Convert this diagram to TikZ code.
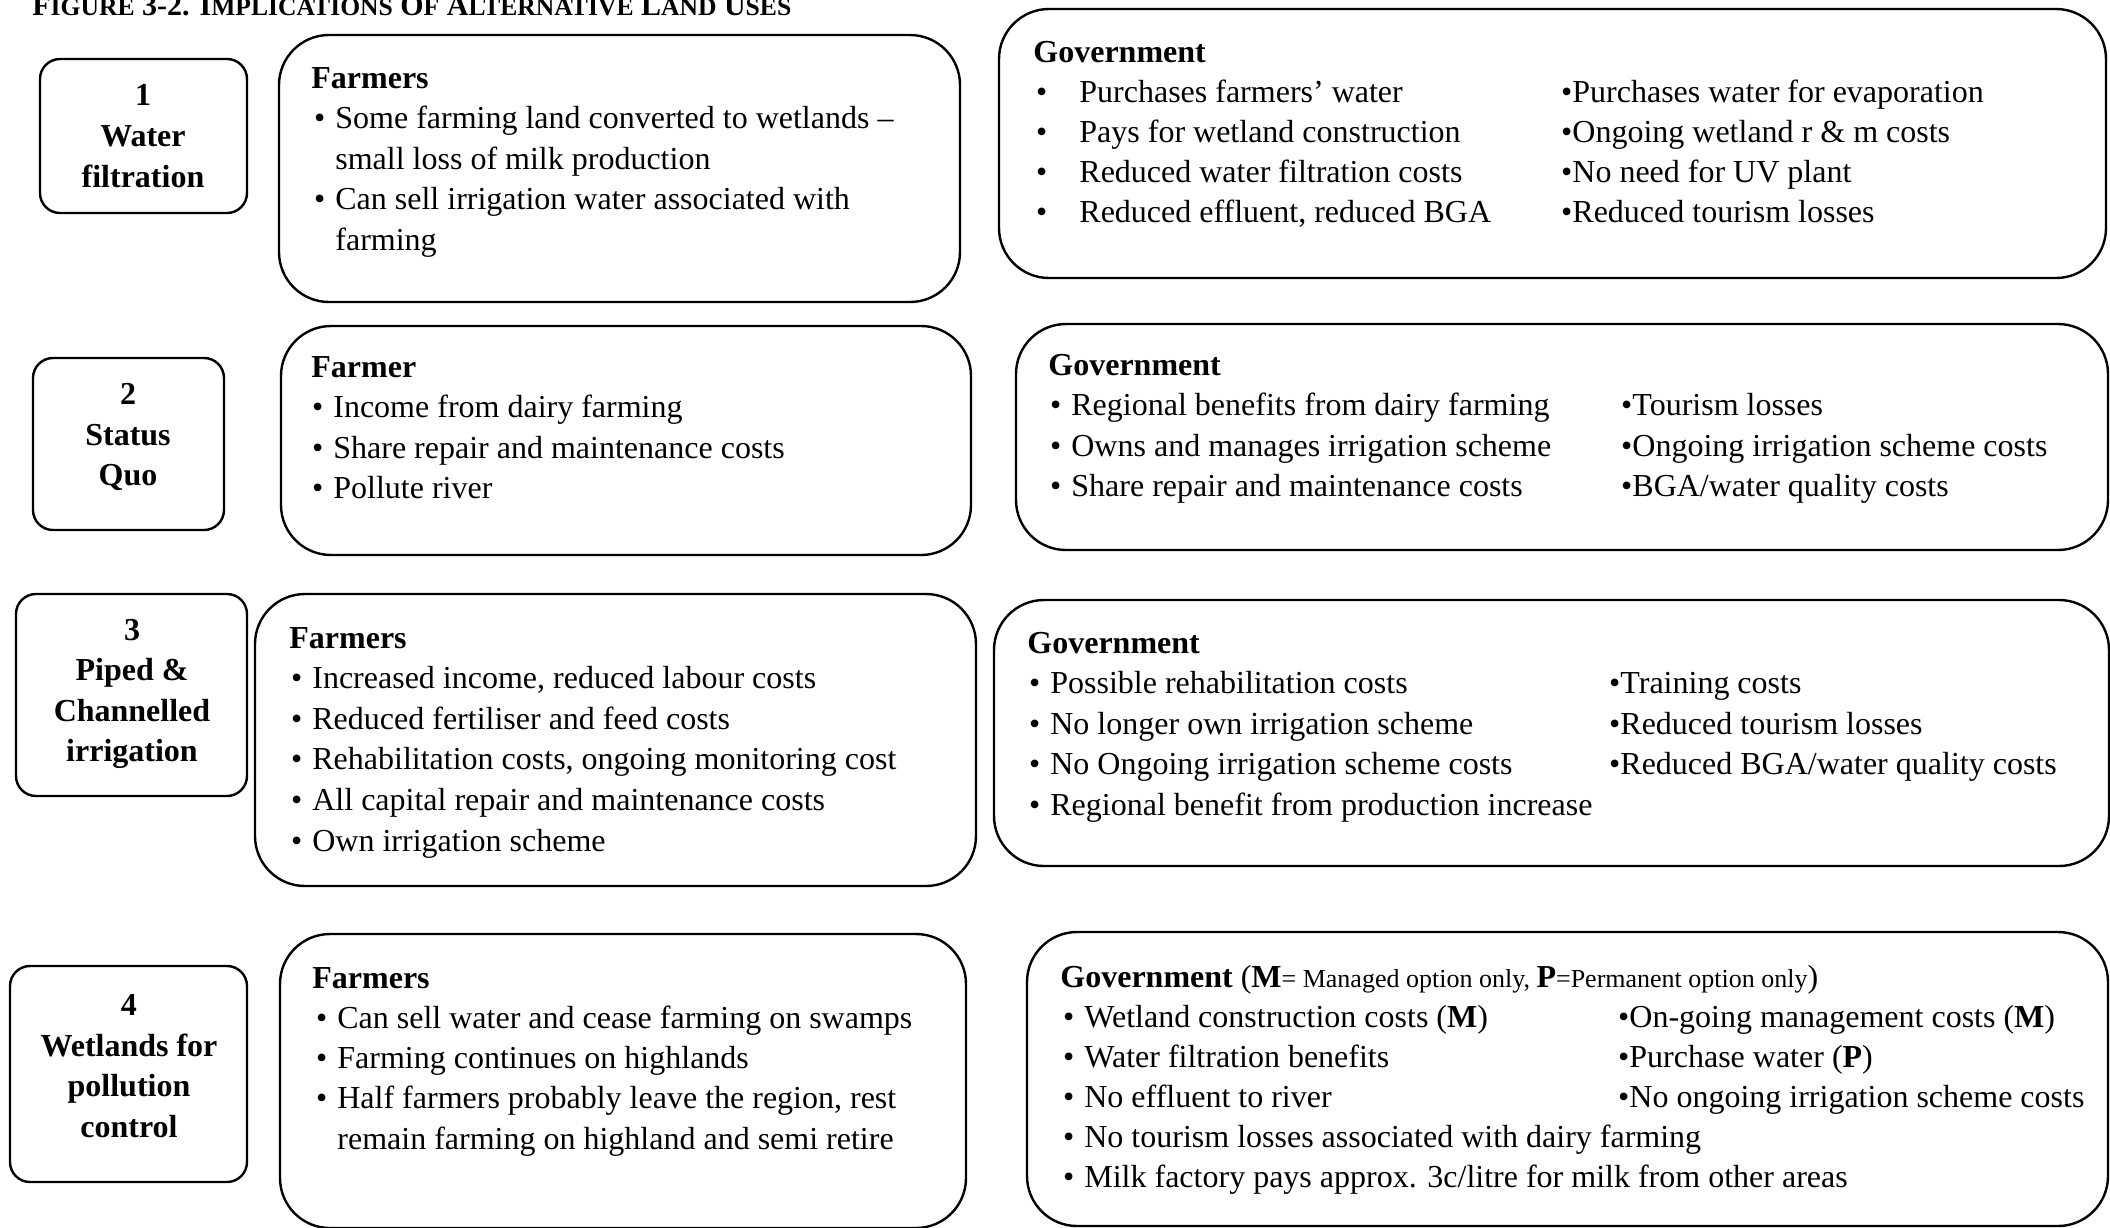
\documentclass[tikz,border=0pt]{standalone}
\usepackage{fontspec}
\setmainfont{Liberation Serif}
\newcommand{\fs}{\fontsize{16}{20.3}\selectfont}
\newcommand{\sm}{\fontsize{13}{15}\selectfont}
\newcommand{\tsm}{\fontsize{12.8}{14}\selectfont}
\newcommand{\bul}[1][5pt]{\llap{\textbullet\hspace{#1}}}

\tikzset{
  numbox/.style={draw, line width=1.2pt, rounded corners=10pt},
  bigbox/.style={draw, line width=1.2pt, rounded corners=25pt},
  numtext/.style={align=center, font=\fs\bfseries, inner sep=0pt},
  head/.style={anchor=base west, inner sep=0pt, font=\fs\bfseries},
  item/.style={anchor=base west, inner sep=0pt, font=\fs},
}

\begin{document}
\begin{tikzpicture}[x=0.5pt, y=-0.5pt]
\useasboundingbox (0,0) rectangle (2110,1227);

% title
\node[anchor=base west, inner sep=0pt, font=\fontsize{15}{17}\selectfont\bfseries] (title) at (32,15)
  {F{\tsm IGURE} 3-2. I{\tsm MPLICATIONS} O{\tsm F} A{\tsm LTERNATIVE} L{\tsm AND} U{\tsm SES}};

% option 1
\draw[numbox] (40,59) rectangle (247,213);
\node[numtext] (opt1) at (143,136) {1\\Water\\filtration};
\draw[bigbox] (279,35) rectangle (960,302);
\node[head] (farm1) at (311,88) {Farmers};
\foreach \t [count=\i] in {\bul Some farming land converted to wetlands –, small loss of milk production,
    \bul Can sell irrigation water associated with, farming}
  \node[item] (farm1-\i) at (335,88+40.5*\i) {\t};
\draw[bigbox] (999,9) rectangle (2106,278);
\node[head] (gov1) at (1033,62) {Government};
\foreach \t [count=\i] in {Purchases farmers’ water, Pays for wetland construction,
    Reduced water filtration costs, {Reduced effluent, reduced BGA}}
  \node[item] (gov1-a\i) at (1079,62+40*\i) {\bul[16pt]\t};
\foreach \t [count=\i] in {Purchases water for evaporation, Ongoing wetland r \& m costs,
    No need for UV plant, Reduced tourism losses}
  \node[item] (gov1-b\i) at (1572,62+40*\i) {\bul[0pt]\t};

% option 2
\draw[numbox] (33,358) rectangle (224,530);
\node[numtext] (opt2) at (128,437) {2\\Status\\Quo};
\draw[bigbox] (281,326) rectangle (971,555);
\node[head] (farm2) at (311,377) {Farmer};
\foreach \t [count=\i] in {Income from dairy farming, Share repair and maintenance costs, Pollute river}
  \node[item] (farm2-\i) at (333,377+40.5*\i) {\bul\t};
\draw[bigbox] (1016,324) rectangle (2108,550);
\node[head] (gov2) at (1048,375) {Government};
\foreach \t [count=\i] in {Regional benefits from dairy farming, Owns and manages irrigation scheme,
    Share repair and maintenance costs}
  \node[item] (gov2-a\i) at (1071,375+40.5*\i) {\bul\t};
\foreach \t [count=\i] in {Tourism losses, Ongoing irrigation scheme costs, BGA/water quality costs}
  \node[item] (gov2-b\i) at (1632,375+40.5*\i) {\bul[0pt]\t};

% option 3
\draw[numbox] (16,594) rectangle (247,796);
\node[numtext] (opt3) at (132,694) {3\\Piped \&\\Channelled\\irrigation};
\draw[bigbox] (255,594) rectangle (976,886);
\node[head] (farm3) at (289,648) {Farmers};
\foreach \t [count=\i] in {{Increased income, reduced labour costs}, Reduced fertiliser and feed costs,
    {Rehabilitation costs, ongoing monitoring cost}, All capital repair and maintenance costs,
    Own irrigation scheme}
  \node[item] (farm3-\i) at (312,648+40.6*\i) {\bul\t};
\draw[bigbox] (994,600) rectangle (2109,866);
\node[head] (gov3) at (1027,653) {Government};
\foreach \t [count=\i] in {Possible rehabilitation costs, No longer own irrigation scheme,
    No Ongoing irrigation scheme costs, Regional benefit from production increase}
  \node[item] (gov3-a\i) at (1050,653+40.5*\i) {\bul\t};
\foreach \t [count=\i] in {Training costs, Reduced tourism losses, Reduced BGA/water quality costs}
  \node[item] (gov3-b\i) at (1620,653+40.5*\i) {\bul[0pt]\t};

% option 4
\draw[numbox] (10,966) rectangle (247,1182);
\node[numtext] (opt4) at (129,1066) {4\\Wetlands for\\pollution\\control};
\draw[bigbox] (280,934) rectangle (966,1228);
\node[head] (farm4) at (312,988) {Farmers};
\foreach \t [count=\i] in {\bul Can sell water and cease farming on swamps, \bul Farming continues on highlands,
    {\bul Half farmers probably leave the region, rest}, remain farming on highland and semi retire}
  \node[item] (farm4-\i) at (337,988+40.3*\i) {\t};
\draw[bigbox] (1027,932) rectangle (2108,1226);
\node[head] (gov4) at (1060,987)
  {Government \mdseries(\bfseries M\mdseries\sm= Managed option only, \fs\bfseries P\mdseries\sm=Permanent option only\fs)};
\foreach \t [count=\i] in {Wetland construction costs (\textbf{M}), Water filtration benefits,
    No effluent to river, No tourism losses associated with dairy farming,
    Milk factory pays approx. 3c/litre for milk from other areas}
  \node[item] (gov4-a\i) at (1084,987+40*\i) {\bul\t};
\foreach \t [count=\i] in {On-going management costs (\textbf{M}), Purchase water (\textbf{P}),
    No ongoing irrigation scheme costs}
  \node[item] (gov4-b\i) at (1629,987+40*\i) {\bul[0pt]\t};
\end{tikzpicture}
\end{document}
